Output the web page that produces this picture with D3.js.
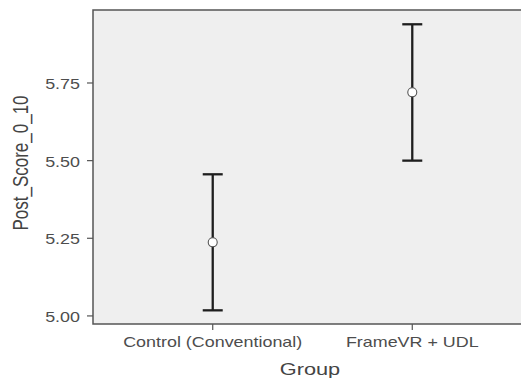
<!DOCTYPE html>
<html>
<head>
<meta charset="utf-8">
<script src="https://cdn.jsdelivr.net/npm/d3@7"></script>
<style>
  html, body { margin: 0; padding: 0; background: #fff; overflow: hidden; }
  svg { display: block; }
  text { font-family: "Liberation Sans", Arial, sans-serif; }
</style>
</head>
<body>
<div id="chart"></div>
<script>
const groups = ["Control (Conventional)", "FrameVR + UDL"];
const means = [5.237, 5.720];
const lower = [5.018, 5.500];
const upper = [5.456, 5.939];
const yTicks = [5.00, 5.25, 5.50, 5.75];

const width = 521, height = 378;
const panel = {left: 93, top: 10, right: 532, bottom: 324};
const stretch = 1.28; // text in the reference is widened horizontally

const svg = d3.select("#chart").append("svg")
  .attr("width", width)
  .attr("height", height);

const x = d3.scalePoint(groups, [panel.left, panel.right]).padding(0.6);
const y = d3.scaleLinear([4.974, 5.985], [panel.bottom, panel.top]);

svg.append("rect")
  .attr("x", panel.left).attr("y", panel.top)
  .attr("width", panel.right - panel.left)
  .attr("height", panel.bottom - panel.top)
  .attr("fill", "#efefef");

// panel border (right side falls outside the picture)
svg.append("path")
  .attr("d", `M${panel.right + 5},${panel.top}H${panel.left}V${panel.bottom}H${panel.right + 5}`)
  .attr("fill", "none")
  .attr("stroke", "#555")
  .attr("stroke-width", 1.5);

// y axis
const yAxis = svg.append("g");
yAxis.selectAll("line").data(yTicks).join("line")
  .attr("x1", panel.left - 6).attr("x2", panel.left)
  .attr("y1", d => y(d)).attr("y2", d => y(d))
  .attr("stroke", "#555").attr("stroke-width", 1.2);
yAxis.selectAll("text").data(yTicks).join("text")
  .attr("transform", d => `translate(80,${y(d) + 1}) scale(${stretch},1)`)
  .attr("dy", "0.35em")
  .attr("text-anchor", "end")
  .attr("font-size", 14)
  .attr("fill", "#4d4d4d")
  .text(d => d3.format(".2f")(d));

// x axis
const xAxis = svg.append("g");
xAxis.selectAll("line").data(groups).join("line")
  .attr("x1", d => x(d)).attr("x2", d => x(d))
  .attr("y1", panel.bottom).attr("y2", panel.bottom + 6)
  .attr("stroke", "#555").attr("stroke-width", 1.2);
xAxis.selectAll("text").data(groups).join("text")
  .attr("transform", d => `translate(${x(d)},347) scale(${stretch},1)`)
  .attr("text-anchor", "middle")
  .attr("font-size", 14)
  .attr("fill", "#4d4d4d")
  .text(d => d);

// titles
svg.append("text")
  .attr("transform", `translate(${(panel.left + 521) / 2 + 3},375) scale(${stretch},1)`)
  .attr("text-anchor", "middle")
  .attr("font-size", 17)
  .attr("fill", "#444")
  .text("Group");

svg.append("text")
  .attr("transform", `translate(28,163) scale(${stretch},1) rotate(-90)`)
  .attr("text-anchor", "middle")
  .attr("font-size", 17)
  .attr("fill", "#444")
  .text("Post_Score_0_10");

// error bars
const bars = svg.append("g")
  .attr("stroke", "#1e1e1e")
  .attr("stroke-width", 2.3);
bars.selectAll(".v").data(groups).join("line")
  .attr("x1", d => x(d)).attr("x2", d => x(d))
  .attr("y1", (d, i) => y(lower[i])).attr("y2", (d, i) => y(upper[i]));
bars.selectAll(".capU").data(groups).join("line")
  .attr("x1", d => x(d) - 10).attr("x2", d => x(d) + 10)
  .attr("y1", (d, i) => y(upper[i])).attr("y2", (d, i) => y(upper[i]));
bars.selectAll(".capL").data(groups).join("line")
  .attr("x1", d => x(d) - 10).attr("x2", d => x(d) + 10)
  .attr("y1", (d, i) => y(lower[i])).attr("y2", (d, i) => y(lower[i]));

// means
svg.append("g").selectAll("circle").data(groups).join("circle")
  .attr("cx", d => x(d))
  .attr("cy", (d, i) => y(means[i]))
  .attr("r", 4.5)
  .attr("fill", "#fff")
  .attr("stroke", "#555")
  .attr("stroke-width", 1.1);
</script>
</body>
</html>
